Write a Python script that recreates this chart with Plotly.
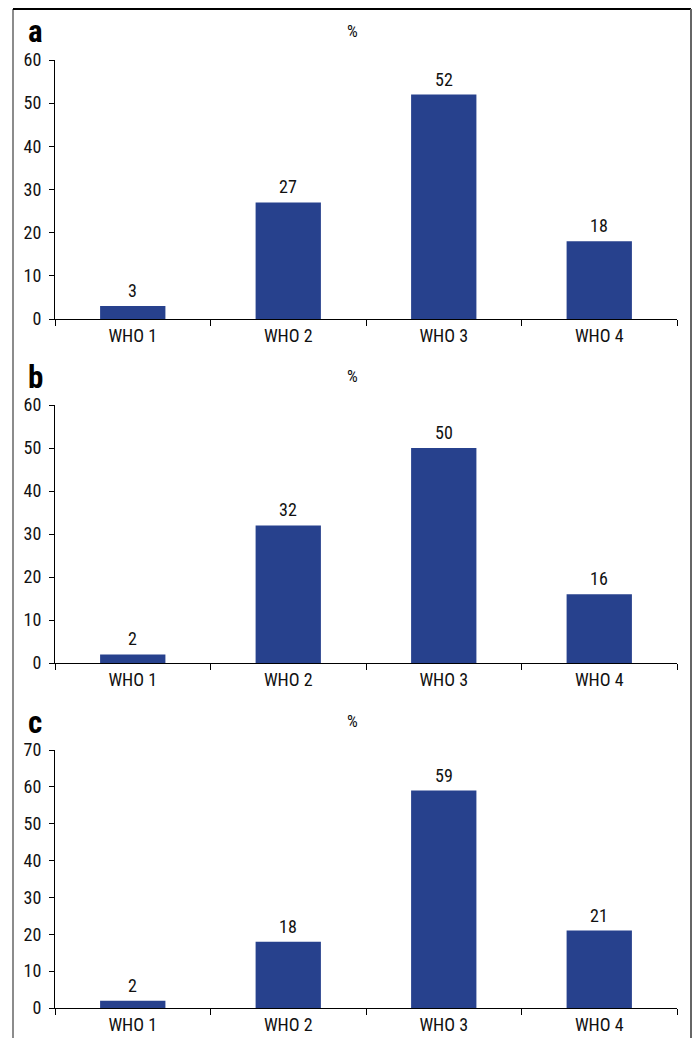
import plotly.graph_objects as go

categories = ["WHO 1", "WHO 2", "WHO 3", "WHO 4"]
values_a = [3, 27, 52, 18]
values_b = [2, 32, 50, 16]
values_c = [2, 18, 59, 21]
panel_labels = ["a", "b", "c"]
y_max = [60, 60, 70]

W, H = 694, 1038
BAR = "#27418d"
FONT = "Roboto Condensed, DejaVu Sans Condensed, sans-serif"
TXT = "#111111"

def px_y(p):
    return 1 - p / H

# pixel geometry of each panel (top of axis, bottom of axis)
panels = [(60, 319), (405, 663), (750, 1008)]
x0, x1 = 55 / W, 677 / W

fig = go.Figure()
series = [values_a, values_b, values_c]
annotations = []
for i, (vals, (top, bot), lab, ym) in enumerate(zip(series, panels, panel_labels, y_max)):
    n = "" if i == 0 else str(i + 1)
    fig.add_trace(go.Bar(
        x=categories, y=vals, marker=dict(color=BAR, line=dict(width=0)),
        width=0.42, xaxis="x" + n, yaxis="y" + n, showlegend=False,
        hoverinfo="x+y",
    ))
    for c, v in zip(categories, vals):
        annotations.append(dict(
            x=c, y=v, xref="x" + n, yref="y" + n, text=str(v), showarrow=False,
            yanchor="bottom", yshift=3, font=dict(family=FONT, size=18, color=TXT),
        ))
    # panel letter
    annotations.append(dict(
        x=35 / W, y=px_y(top - 28), xref="paper", yref="paper", text="<b>%s</b>" % lab,
        showarrow=False, xanchor="center", yanchor="middle",
        font=dict(family=FONT, size=31, color="#000000"),
    ))
    annotations.append(dict(
        x=352 / W, y=px_y(top - 29), xref="paper", yref="paper", text="%",
        showarrow=False, xanchor="center", yanchor="middle",
        font=dict(family=FONT, size=17, color=TXT),
    ))
    xa = dict(
        domain=[x0, x1], anchor="y" + n, type="category", range=[-0.5, 3.5],
        tickson="boundaries", ticks="outside", ticklen=6, tickwidth=1, tickcolor="#000",
        showline=True, linecolor="#000", linewidth=1, showgrid=False, zeroline=False,
        tickfont=dict(family=FONT, size=18, color=TXT), fixedrange=True, automargin=False,
    )
    ya = dict(
        domain=[px_y(bot), px_y(top)], anchor="x" + n, range=[0, ym], dtick=10,
        ticks="outside", ticklen=5, tickwidth=1, tickcolor="#000",
        showline=True, linecolor="#000", linewidth=1, showgrid=False, zeroline=False,
        tickfont=dict(family=FONT, size=18, color=TXT), ticklabelstandoff=4,
        fixedrange=True, automargin=False,
    )
    fig.layout["xaxis" + n] = xa
    fig.layout["yaxis" + n] = ya

shapes = [
    dict(type="line", xref="paper", yref="paper", x0=13 / W, x1=13 / W, y0=0, y1=px_y(9),
         line=dict(color="#666666", width=1.5)),
    dict(type="line", xref="paper", yref="paper", x0=13 / W, x1=691 / W, y0=px_y(9), y1=px_y(9),
         line=dict(color="#000000", width=2)),
    dict(type="line", xref="paper", yref="paper", x0=691 / W, x1=691 / W, y0=0, y1=px_y(9),
         line=dict(color="#666666", width=2)),
]

fig.update_layout(
    width=W, height=H, margin=dict(l=0, r=0, t=0, b=0, autoexpand=False),
    paper_bgcolor="white", plot_bgcolor="white",
    annotations=annotations, shapes=shapes, bargap=0.58,
    font=dict(family=FONT, color=TXT),
)
fig.write_html("out.html", config={"displayModeBar": False})
s = open("out.html").read().replace("<head>", "<head><style>html,body{margin:0;padding:0;overflow:hidden}</style>", 1)
open("out.html", "w").write(s)
